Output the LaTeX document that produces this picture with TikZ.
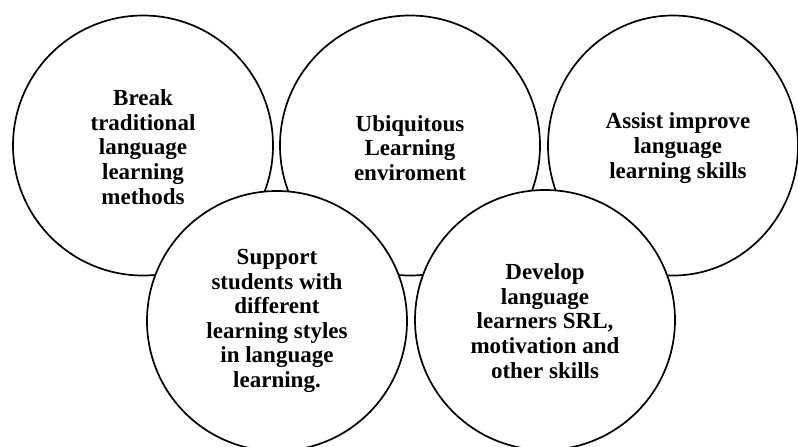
\documentclass[tikz,border=0pt]{standalone}
\usepackage{fontspec}
\setmainfont{Liberation Serif}
\usetikzlibrary{shapes.geometric}
\begin{document}
\begin{tikzpicture}[x=1pt,y=-1pt,
  ring/.style={circle, draw=black, fill=white, line width=1.7pt, minimum size=260pt, inner sep=0pt},
  oval/.style={ellipse, draw=black, fill=white, line width=1.7pt, minimum width=250pt, minimum height=260pt, inner sep=0pt},
  lbl/.style={align=center, font=\fontsize{23}{24.6}\selectfont\bfseries, inner sep=0pt}]
\useasboundingbox (0,0) rectangle (798,447);
\clip (0,0) rectangle (798,447);
\node[ring] (c1) at (143,145.5) {};
\node[ring] (c2) at (410,145.5) {};
\node[oval] (c3) at (673,145.5) {};
\node[ring] (c4) at (277,321) {};
\node[ring] (c5) at (545,320) {};
\node[lbl] (t1) at (143,147) {Break\\traditional\\language\\learning\\methods};
\node[lbl] (t2) at (410,148) {Ubiquitous\\Learning\\enviroment};
\node[lbl] (t3) at (678,148) {Assist improve\\language\\learning skills};
\node[lbl] (t4) at (277,321) {Support\\students with\\different\\learning styles\\in language\\learning.};
\node[lbl] (t5) at (545,321) {Develop\\language\\learners SRL,\\motivation and\\other skills};
\end{tikzpicture}
\end{document}
